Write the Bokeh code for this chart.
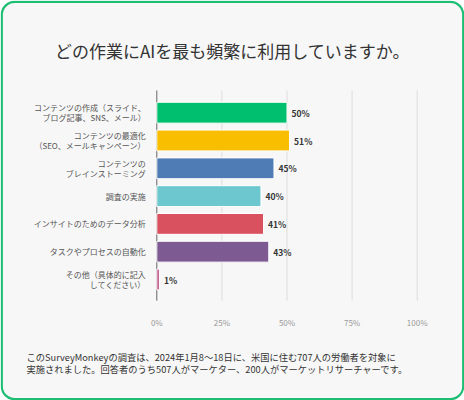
from bokeh.plotting import figure
from bokeh.models import Range1d, ColumnDataSource
from bokeh.core.properties import value
from bokeh.embed import file_html
from bokeh.resources import INLINE

title_text = "どの作業にAIを最も頻繁に利用していますか。"
categories = [
    "コンテンツの作成（スライド、\nブログ記事、SNS、メール）",
    "コンテンツの最適化\n（SEO、メールキャンペーン）",
    "コンテンツの\nブレインストーミング",
    "調査の実施",
    "インサイトのためのデータ分析",
    "タスクやプロセスの自動化",
    "その他（具体的に記入\nしてください）",
]
values = [50, 51, 45, 40, 41, 43, 1]
bar_colors = ["#00BF6F", "#F9BE00", "#507CB6", "#6CC8CE", "#D9505F", "#7D5A91", "#C4588A"]
value_labels = ["50%", "51%", "45%", "40%", "41%", "43%", "1%"]
xticks = [0, 25, 50, 75, 100]
xtick_labels = ["0%", "25%", "50%", "75%", "100%"]
footnote_lines = [
    "このSurveyMonkeyの調査は、2024年1月8～18日に、米国に住む707人の労働者を対象に",
    "実施されました。回答者のうち507人がマーケター、200人がマーケットリサーチャーです。",
]

FONT = "Noto Sans CJK JP"
BG = "#F7F7F7"
W, H = 464, 400

# pixel geometry of the canvas -> data ranges
PX_PER_PCT = 2.604       # pixels per percentage point
X0_PX = 156.3            # pixel of 0 %
PX_PER_ROW = 27.8        # pixels per category row
ROW0_PX = 112.2          # pixel centre of first row

x_start = -X0_PX / PX_PER_PCT
x_end = x_start + W / PX_PER_PCT
y_top = -ROW0_PX / PX_PER_ROW
y_bottom = y_top + H / PX_PER_ROW

def px_x(px):
    return x_start + px / PX_PER_PCT

def px_y(py):
    return y_top + py / PX_PER_ROW

n = len(categories)
ypos = list(range(n))

p = figure(width=W, height=H, x_range=Range1d(x_start, x_end), y_range=Range1d(y_bottom, y_top),
           output_backend="svg", toolbar_location=None, min_border=0,
           background_fill_color="white", border_fill_color="white", outline_line_color=None,
           margin=(0, 0, 0, 0))
p.axis.visible = False
p.grid.visible = False

# card with rounded green border
p.quad(left=px_x(1.3), right=px_x(W - 1.3), top=px_y(1.3), bottom=px_y(H - 1.3),
       fill_color=BG, line_color="#1DBE74", line_width=2.2, border_radius=13)

# title
p.text(x=[px_x(W / 2)], y=[px_y(50)], text=[title_text], text_align="center", text_baseline="middle",
       text_font=value(FONT), text_font_size="17px", text_color="#333333")

# grid lines and axis line
grid_top = -0.8
grid_bottom = n - 1 + 0.76
p.segment(x0=xticks[1:], x1=xticks[1:], y0=[grid_top] * (len(xticks) - 1), y1=[grid_bottom] * (len(xticks) - 1),
          line_color="#DDDDDD", line_width=1)
p.segment(x0=[0], x1=[0], y0=[grid_top], y1=[grid_bottom], line_color="#666666", line_width=1)

src = ColumnDataSource(dict(y=ypos, cat=categories, val=values, color=bar_colors, lab=value_labels))

p.hbar(y="y", left=0, right="val", height=0.75, fill_color="color", line_color="white", line_width=1, source=src)

# category labels
p.text(x=0, y="y", text="cat", source=src, x_offset=-11, text_align="right", text_baseline="middle",
       text_font=value(FONT), text_font_size="8px", text_color="#555555", text_line_height=0.92)

# value labels
p.text(x="val", y="y", text="lab", source=src, x_offset=4.5, text_align="left", text_baseline="middle",
       text_font=value(FONT), text_font_size="8.5px", text_font_style="bold", text_color="#333333")

# x tick labels
p.text(x=xticks, y=[n - 1 + 1.55] * len(xticks), text=xtick_labels, text_align="center", text_baseline="middle",
       text_font=value(FONT), text_font_size="8px", text_color="#9A9A9A")

# footnote
p.text(x=[px_x(26)] * len(footnote_lines), y=[px_y(356), px_y(368.5)], text=footnote_lines,
       text_align="left", text_baseline="middle",
       text_font=value(FONT), text_font_size="9.25px", text_color="#333333")

open("out.html", "w").write(file_html(p, INLINE))
